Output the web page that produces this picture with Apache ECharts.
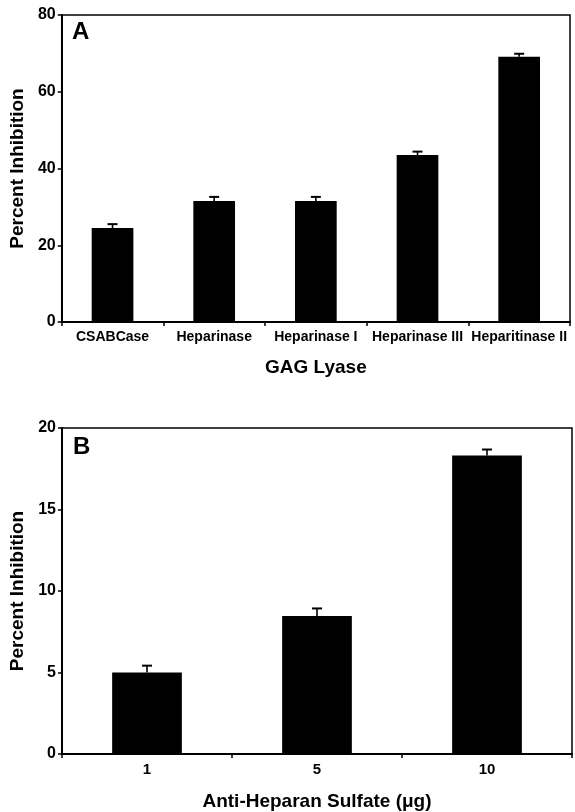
<!DOCTYPE html>
<html>
<head>
<meta charset="utf-8">
<script src="https://cdn.jsdelivr.net/npm/echarts@6/dist/echarts.min.js"></script>
<style>
  html, body { margin: 0; padding: 0; background: #fff; }
  #chart { width: 575px; height: 812px; }
</style>
</head>
<body>
<div id="chart"></div>
<script>
// panel A
const lyases = ['CSABCase', 'Heparinase', 'Heparinase I', 'Heparinase III', 'Heparitinase II']
const lyaseMean = [24.5, 31.5, 31.5, 43.5, 69.1]
const lyaseErr = [1.0, 1.1, 1.1, 0.9, 0.8]

// panel B
const doses = ['1', '5', '10']
const doseMean = [5.0, 8.47, 18.31]
const doseErr = [0.42, 0.46, 0.37]

const font = '"Liberation Sans", Arial, Helvetica, sans-serif'

// error bar drawn as a custom series (upper whisker + cap)
const errorItem = (params, api) => {
  const x = api.value(0)
  const top = api.coord([x, api.value(1) + api.value(2)])
  const mid = api.coord([x, api.value(1)])
  const half = 5
  const style = { stroke: '#000', lineWidth: 1.6 }
  return {
    type: 'group',
    children: [
      { type: 'line', shape: { x1: mid[0], y1: mid[1], x2: top[0], y2: top[1] }, style },
      { type: 'line', shape: { x1: top[0] - half, y1: top[1], x2: top[0] + half, y2: top[1] }, style: { stroke: '#000', lineWidth: 2 } }
    ]
  }
}

const xAxisBase = (idx, cats, name, labelSize, gap) => ({
  type: 'category',
  gridIndex: idx,
  data: cats,
  name: name,
  nameLocation: 'middle',
  nameGap: gap,
  nameTextStyle: { fontFamily: font, fontWeight: 'bold', fontSize: 19, color: '#000' },
  axisLine: { lineStyle: { color: '#000', width: 2 } },
  axisTick: { show: true, length: 4, lineStyle: { color: '#000', width: 1.5 } },
  axisLabel: { fontFamily: font, fontWeight: 'bold', fontSize: labelSize, color: '#000', margin: 8, interval: 0 }
})

const yAxisBase = (idx, max, step, gap) => ({
  type: 'value',
  gridIndex: idx,
  min: 0,
  max: max,
  interval: step,
  name: 'Percent Inhibition',
  nameLocation: 'middle',
  nameGap: gap,
  nameTextStyle: { fontFamily: font, fontWeight: 'bold', fontSize: 19, color: '#000' },
  axisLine: { show: true, lineStyle: { color: '#000', width: 2 } },
  axisTick: { show: true, length: 4, lineStyle: { color: '#000', width: 1.5 } },
  axisLabel: { fontFamily: font, fontWeight: 'bold', fontSize: 16, color: '#000', margin: 6 },
  splitLine: { show: false }
})

const chart = echarts.init(document.getElementById('chart'))
chart.setOption({
  animation: false,
  backgroundColor: '#fff',
  grid: [
    { left: 60, right: 5, top: 15, bottom: 490, show: true, borderColor: '#000', borderWidth: 1.5 },
    { left: 62, right: 3, top: 428, bottom: 55, show: true, borderColor: '#000', borderWidth: 1.5 }
  ],
  xAxis: [
    xAxisBase(0, lyases, 'GAG Lyase', 14, 36),
    xAxisBase(1, doses, 'Anti-Heparan Sulfate (\u03bcg)', 15, 38)
  ],
  yAxis: [
    yAxisBase(0, 80, 20, 32),
    yAxisBase(1, 20, 5, 34)
  ],
  graphic: [
    { type: 'text', left: 72, top: 20, style: { text: 'A', font: 'bold 24px ' + font, fill: '#000' } },
    { type: 'text', left: 73, top: 435, style: { text: 'B', font: 'bold 24px ' + font, fill: '#000' } }
  ],
  series: [
    {
      type: 'bar',
      xAxisIndex: 0,
      yAxisIndex: 0,
      data: lyaseMean,
      barWidth: '41%',
      itemStyle: { color: '#000' }
    },
    {
      type: 'custom',
      xAxisIndex: 0,
      yAxisIndex: 0,
      renderItem: errorItem,
      data: lyaseMean.map((v, i) => [i, v, lyaseErr[i]]),
      z: 3
    },
    {
      type: 'bar',
      xAxisIndex: 1,
      yAxisIndex: 1,
      data: doseMean,
      barWidth: '41%',
      itemStyle: { color: '#000' }
    },
    {
      type: 'custom',
      xAxisIndex: 1,
      yAxisIndex: 1,
      renderItem: errorItem,
      data: doseMean.map((v, i) => [i, v, doseErr[i]]),
      z: 3
    }
  ]
})
</script>
</body>
</html>
